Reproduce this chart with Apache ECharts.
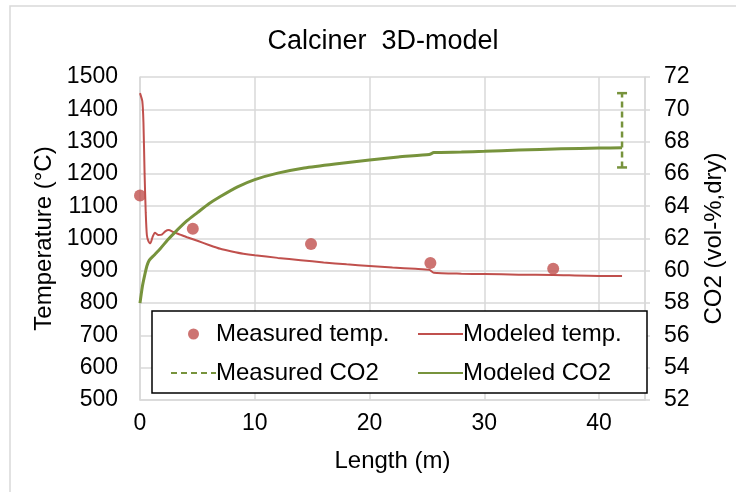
<!DOCTYPE html>
<html>
<head>
<meta charset="utf-8">
<script src="https://cdn.jsdelivr.net/npm/echarts@6/dist/echarts.min.js"></script>
<style>
  html, body { margin: 0; padding: 0; background: #fff; }
  #chart { width: 736px; height: 492px; }
</style>
</head>
<body>
<div id="chart"></div>
<script>
// Length (m) along the calciner
const measuredTemp = [[0, 1133], [4.6, 1030], [14.9, 983], [25.3, 924], [36.0, 906]];

const modeledTemp = [
    [0, 1450], [0.2, 1425], [0.3, 1360], [0.4, 1200], [0.5, 1080], [0.6, 1010],
    [0.75, 990], [0.9, 985], [1.1, 1005], [1.3, 1018], [1.6, 1011], [1.9, 1012],
    [2.2, 1022], [2.5, 1026], [2.9, 1020], [3.5, 1012], [4.1, 1004], [5, 993],
    [6, 980], [7, 968], [8, 960], [9, 953], [10, 948], [12, 940], [14, 933],
    [16, 926], [18, 920], [20, 915], [22, 910], [24, 906], [25.2, 903],
    [25.6, 894], [28, 891], [30, 890], [33, 888], [36, 887], [40, 884], [42, 884]
];

// measured CO2 range at the outlet (low / high)
const measuredCO2 = [[42, 66.4], [42, 71.0]];

const modeledCO2 = [
    [0, 58.0], [0.2, 59.0], [0.4, 59.7], [0.6, 60.3], [0.8, 60.65], [1.2, 60.95],
    [1.8, 61.4], [2.4, 61.9], [3, 62.35], [4.1, 63.1], [5, 63.6], [6, 64.15],
    [7, 64.6], [8.5, 65.2], [10, 65.65], [12, 66.05], [14.3, 66.37], [17, 66.62],
    [20, 66.86], [22.5, 67.05], [25.2, 67.2], [25.6, 67.32], [28, 67.35],
    [30, 67.4], [33, 67.48], [36.7, 67.55], [40, 67.6], [42, 67.62]
];

const RED = "#c0504d";
const GREEN = "#77933c";
const GRID = "#d9d9d9";
const FONT = "Liberation Sans";

const chart = echarts.init(document.getElementById("chart"));

const legendCommon = {
    orient: "vertical",
    top: 317,
    z: 10,
    itemWidth: 45,
    itemHeight: 11,
    itemGap: 15,
    textStyle: { fontFamily: FONT, fontSize: 24, color: "#000", padding: [0, 0, 0, -5] }
};

// line-only legend icons (hide the symbol ECharts draws in the middle)
const lineOnly = (name) => ({ name: name, itemStyle: { opacity: 0 } });

const plain = (v) => String(v);

chart.setOption({
    animation: false,
    textStyle: { fontFamily: FONT },
    title: {
        text: "Calciner  3D-model",
        left: 378,
        top: 23,
        textAlign: "center",
        textStyle: { fontFamily: FONT, fontSize: 27, fontWeight: "normal", color: "#000" }
    },
    graphic: [
        {
            type: "rect",
            shape: { x: 10, y: 6, width: 740, height: 500 },
            style: { fill: "none", stroke: GRID, lineWidth: 1.5 },
            silent: true
        },
        {
            type: "rect",
            z: 8,
            shape: { x: 152, y: 311, width: 495, height: 82 },
            style: { fill: "#fff", stroke: "#000", lineWidth: 1.5 },
            silent: true
        }
    ],
    legend: [
        Object.assign({}, legendCommon, { left: 165, data: ["Measured temp.", lineOnly("Measured CO2")] }),
        Object.assign({}, legendCommon, { left: 412, data: [lineOnly("Modeled temp."), lineOnly("Modeled CO2")] })
    ],
    grid: { left: 140, right: 91, top: 77, bottom: 92 },
    xAxis: {
        type: "value",
        min: 0,
        max: 44,
        interval: 10,
        name: "Length (m)",
        nameLocation: "middle",
        nameGap: 49,
        nameTextStyle: { fontFamily: FONT, fontSize: 24, color: "#000" },
        axisLine: { lineStyle: { color: GRID, width: 1.5 } },
        axisTick: { show: false },
        axisLabel: { fontFamily: FONT, fontSize: 23, color: "#000", margin: 12, showMaxLabel: false, formatter: plain },
        splitLine: { lineStyle: { color: GRID, width: 1.5 } }
    },
    yAxis: [
        {
            type: "value",
            min: 500,
            max: 1500,
            interval: 100,
            name: "Temperature (°C)",
            nameLocation: "middle",
            nameRotate: 90,
            nameGap: 71,
            nameTextStyle: { fontFamily: FONT, fontSize: 24, color: "#000" },
            axisLine: { show: true, lineStyle: { color: GRID, width: 1.5 } },
            axisTick: { show: false },
            axisLabel: { fontFamily: FONT, fontSize: 23, color: "#000", margin: 22, formatter: plain },
            splitLine: { lineStyle: { color: GRID, width: 1.5 } }
        },
        {
            type: "value",
            min: 52,
            max: 72,
            interval: 2,
            position: "right",
            name: "CO2 (vol-%,dry)",
            nameLocation: "middle",
            nameRotate: 90,
            nameGap: 57,
            nameTextStyle: { fontFamily: FONT, fontSize: 24, color: "#000" },
            axisLine: { show: true, lineStyle: { color: GRID, width: 1.5 } },
            axisTick: { show: true, length: 5, lineStyle: { color: GRID, width: 1.5 } },
            axisLabel: { fontFamily: FONT, fontSize: 23, color: "#000", margin: 19, formatter: plain },
            splitLine: { show: false }
        }
    ],
    series: [
        {
            name: "Measured temp.",
            type: "scatter",
            yAxisIndex: 0,
            symbol: "circle",
            symbolSize: 12,
            itemStyle: { color: RED },
            data: measuredTemp,
            z: 4
        },
        {
            name: "Modeled temp.",
            type: "line",
            yAxisIndex: 0,
            showSymbol: false,
            symbol: "none",
            smooth: 0.2,
            lineStyle: { color: RED, width: 2 },
            itemStyle: { color: RED },
            data: modeledTemp
        },
        {
            name: "Measured CO2",
            type: "line",
            yAxisIndex: 1,
            symbol: "rect",
            symbolSize: [10, 2.5],
            lineStyle: { color: GREEN, width: 2.5, type: [6, 4] },
            itemStyle: { color: GREEN },
            data: measuredCO2
        },
        {
            name: "Modeled CO2",
            type: "line",
            yAxisIndex: 1,
            showSymbol: false,
            symbol: "none",
            smooth: 0.2,
            lineStyle: { color: GREEN, width: 3 },
            itemStyle: { color: GREEN },
            data: modeledCO2
        }
    ]
});
</script>
</body>
</html>
